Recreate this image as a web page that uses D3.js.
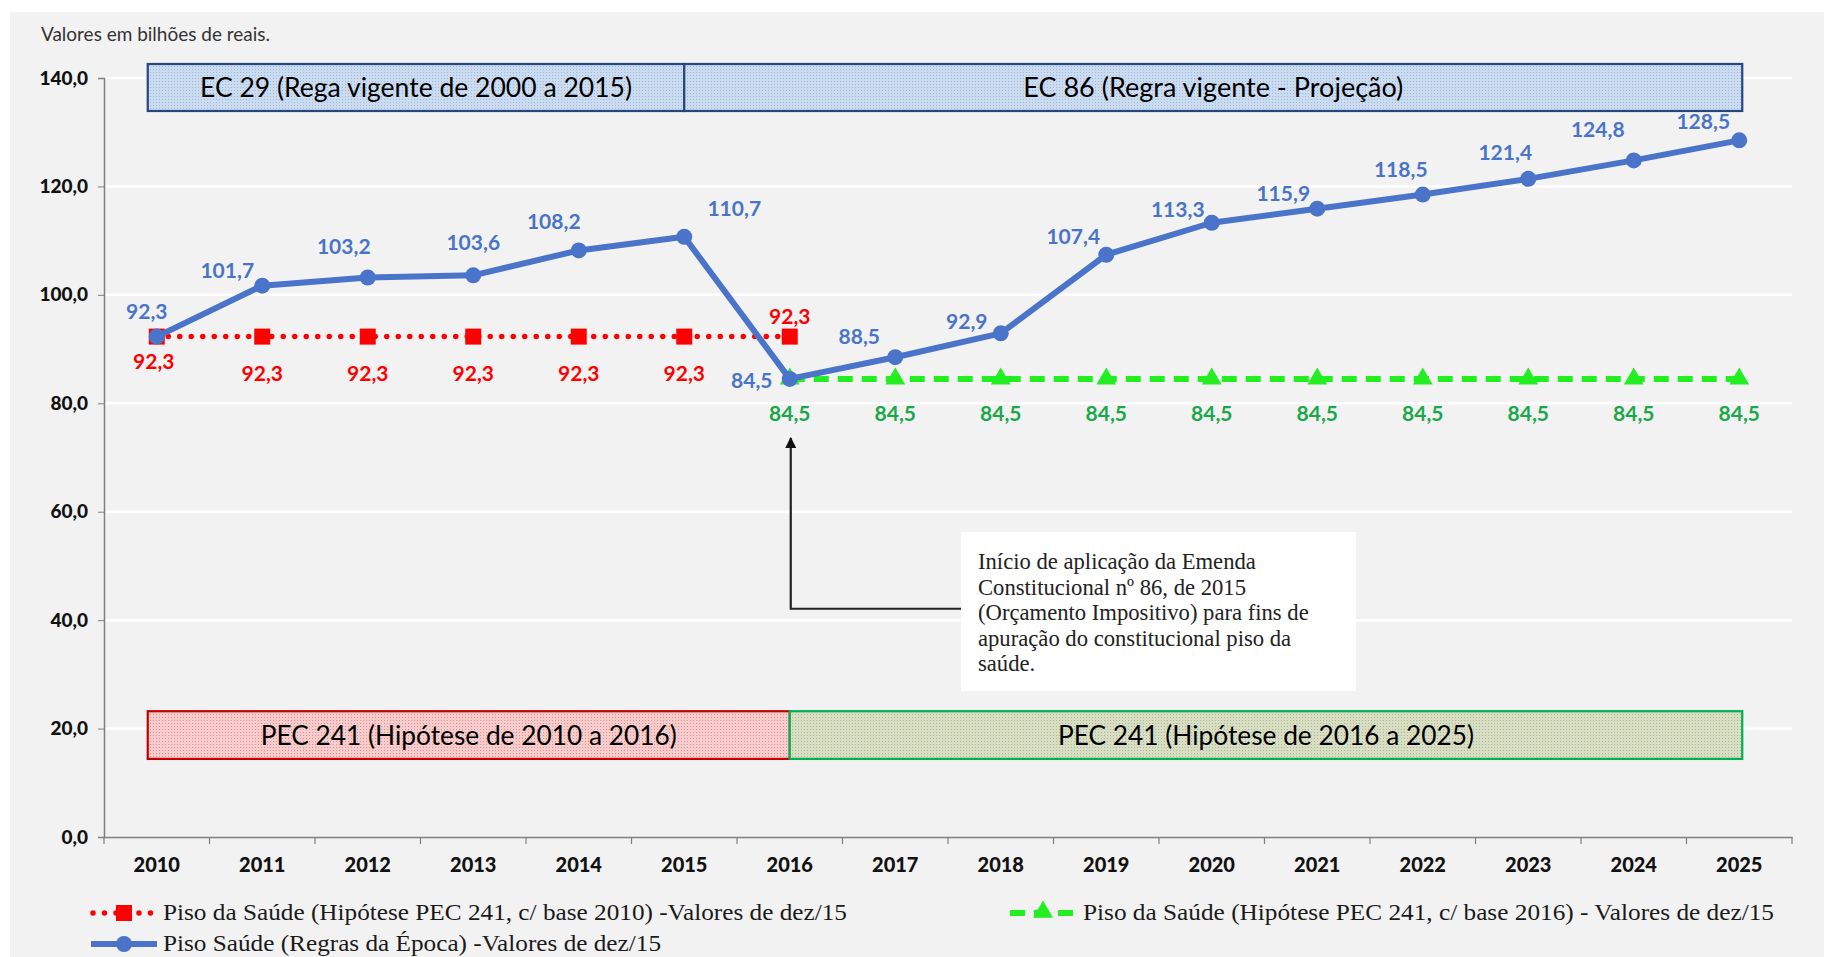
<!DOCTYPE html>
<html><head><meta charset="utf-8">
<script src="https://cdn.jsdelivr.net/npm/d3@7"></script>
<style>html,body{margin:0;padding:0;background:#fff;}svg{display:block;}</style>
</head><body>
<svg id="chart" width="1828" height="957"></svg>
<script>
const years = [2010,2011,2012,2013,2014,2015,2016,2017,2018,2019,2020,2021,2022,2023,2024,2025];
const blueValues = [92.3,101.7,103.2,103.6,108.2,110.7,84.5,88.5,92.9,107.4,113.3,115.9,118.5,121.4,124.8,128.5];
const redYears = [2010,2011,2012,2013,2014,2015,2016];
const redValues = [92.3,92.3,92.3,92.3,92.3,92.3,92.3];
const greenYears = [2016,2017,2018,2019,2020,2021,2022,2023,2024,2025];
const greenValues = [84.5,84.5,84.5,84.5,84.5,84.5,84.5,84.5,84.5,84.5];
const yTicks = [0,20,40,60,80,100,120,140];
const fmt = v => v.toFixed(1).replace(".", ",");

const labelTexts = {
  title: "Valores em bilhões de reais.",
  ec29: "EC 29 (Rega vigente de 2000 a 2015)",
  ec86: "EC 86 (Regra vigente - Projeção)",
  pecA: "PEC 241 (Hipótese de 2010 a 2016)",
  pecB: "PEC 241 (Hipótese de 2016 a 2025)",
  legRed: "Piso da Saúde (Hipótese PEC 241, c/ base 2010) -Valores de dez/15",
  legGreen: "Piso da Saúde (Hipótese PEC 241, c/ base 2016) - Valores de dez/15",
  legBlue: "Piso Saúde (Regras da Época) -Valores de dez/15"
};
const noteLines = ["Início de aplicação da Emenda","Constitucional nº 86, de 2015","(Orçamento Impositivo) para fins de","apuração do constitucional piso da","saúde."];

// layout offsets for blue labels (pixels, dx, dy relative to point)
const blueLabelOffsets = [[-10,-18],[-35,-8],[-24,-24],[0,-25],[-25,-21],[50,-21],[-38,9],[-36,-13],[-34,-4],[-33,-11],[-34,-6],[-34,-8],[-22,-18],[-23,-19],[-36,-23],[-36,-11]];

const svg = d3.select("#chart");
const W = 1828, H = 957;
const mLeft = 104, mRight = 1792, mTop = 78, mBottom = 837;
const blue = "#4a74c9", red = "#ff0000", green = "#22ee22", greenText = "#1aa84a";
const sans = "Lato, 'Open Sans', sans-serif";
const serif = "'Liberation Serif', 'DejaVu Serif', serif";

svg.append("rect").attr("x",0).attr("y",0).attr("width",W).attr("height",H).attr("fill","#fff");
svg.append("rect").attr("x",10).attr("y",12).attr("width",W-14).attr("height",H-12).attr("fill","#f2f2f2");

const defs = svg.append("defs");
function pat(id, base, dot) {
  const p = defs.append("pattern").attr("id",id).attr("width",3).attr("height",3).attr("patternUnits","userSpaceOnUse");
  p.append("rect").attr("width",3).attr("height",3).attr("fill",base);
  p.append("rect").attr("width",1).attr("height",1).attr("fill",dot);
}
pat("pBlue","#ccdcf0","#9fb8de");
pat("pRed","#f6cccc","#e48f8f");
pat("pGreen","#d8dec4","#aeb690");

const x = d3.scaleBand().domain(years).range([mLeft,mRight]).padding(0);
const cx = d => x(d) + x.bandwidth()/2;
const y = d3.scaleLinear().domain([0,140]).range([mBottom,mTop]);

function squeeze(sel, target) {
  sel.attr("textLength", target).attr("lengthAdjust","spacingAndGlyphs");
  return sel;
}
function fitText(sel, target) {
  const n = sel.node();
  const w = n.getComputedTextLength();
  const fs = parseFloat(sel.attr("font-size"));
  if (w > 0) sel.attr("font-size", fs * target / w);
  return sel;
}

// gridlines
svg.append("g").selectAll("line").data(yTicks.filter(d=>d>0)).join("line")
  .attr("x1",mLeft).attr("x2",mRight).attr("y1",d=>y(d)).attr("y2",d=>y(d))
  .attr("stroke","#ffffff").attr("stroke-width",2.5);

// axes
const yAxis = svg.append("g").attr("transform",`translate(${mLeft},0)`)
  .call(d3.axisLeft(y).tickValues(yTicks).tickFormat(fmt).tickSize(6).tickPadding(10));
yAxis.select(".domain").attr("stroke","#7f7f7f").attr("stroke-width",1.5);
yAxis.selectAll(".tick line").attr("stroke","#7f7f7f");
yAxis.selectAll("text").attr("font-family",sans).attr("font-weight","900").attr("font-size",19).attr("fill","#111");

const xAxis = svg.append("g").attr("transform",`translate(0,${mBottom})`)
  .call(d3.axisBottom(x).tickSize(0).tickPadding(21));
xAxis.select(".domain").attr("stroke","#7f7f7f").attr("stroke-width",1.5);
xAxis.selectAll("text").attr("font-family",sans).attr("font-weight","900").attr("font-size",20).attr("fill","#111");
svg.append("g").selectAll("line").data(years.concat([null])).join("line")
  .attr("x1",(d,i)=>mLeft + i*x.bandwidth()).attr("x2",(d,i)=>mLeft + i*x.bandwidth())
  .attr("y1",mBottom).attr("y2",mBottom+7).attr("stroke","#7f7f7f").attr("stroke-width",1.2);

// title
fitText(svg.append("text").attr("x",41).attr("y",41).attr("font-family",sans).attr("font-size",16)
  .attr("fill","#333").text(labelTexts.title), 229);

// boxes
function box(x0,x1,y0,y1,fill,stroke,label,labelW) {
  svg.append("rect").attr("x",x0).attr("y",y0).attr("width",x1-x0).attr("height",y1-y0)
    .attr("fill",fill).attr("stroke",stroke).attr("stroke-width",2.2);
  squeeze(svg.append("text").attr("x",(x0+x1)/2).attr("y",(y0+y1)/2).attr("dy","0.36em")
    .attr("text-anchor","middle").attr("font-family",sans).attr("font-size",27).attr("fill","#000").text(label), labelW);
}
box(cx(2010)-9, cx(2015), y(140)-14, y(140)+33, "url(#pBlue)", "#27467e", labelTexts.ec29, 432);
box(cx(2015), cx(2025)+3, y(140)-14, y(140)+33, "url(#pBlue)", "#27467e", labelTexts.ec86, 380);
box(cx(2010)-9, cx(2016), y(23.2), y(14.4), "url(#pRed)", "#c00000", labelTexts.pecA, 416);
box(cx(2016), cx(2025)+3, y(23.2), y(14.4), "url(#pGreen)", "#00b050", labelTexts.pecB, 416);

// annotation box
const noteX = 961, noteY = 532;
svg.append("rect").attr("x",noteX).attr("y",noteY).attr("width",395).attr("height",159).attr("fill","#ffffff");
const noteG = svg.append("g");
noteLines.forEach((t,i)=>{
  noteG.append("text").attr("x",noteX+17).attr("y",noteY+37+i*25.5)
    .attr("font-family",serif).attr("font-size",18).attr("fill","#222").text(t);
});
fitText(noteG.select("text"), 278);
const nfs = noteG.select("text").attr("font-size");
noteG.selectAll("text").attr("font-size",nfs);

// arrow
defs.append("marker").attr("id","arrowHead").attr("viewBox","0 0 10 10").attr("refX",9).attr("refY",5)
  .attr("markerWidth",5).attr("markerHeight",5).attr("orient","auto")
  .append("path").attr("d","M0,0 L10,5 L0,10 z").attr("fill","#111");
svg.append("path").attr("d",`M${noteX},${y(42.1)} L${cx(2016)+1},${y(42.1)} L${cx(2016)+1},${y(73.6)}`)
  .attr("fill","none").attr("stroke","#222").attr("stroke-width",2.2).attr("marker-end","url(#arrowHead)");

// lines
const line = d3.line().x(d=>cx(d[0])).y(d=>y(d[1]));
const redData = redYears.map((d,i)=>[d,redValues[i]]);
const greenData = greenYears.map((d,i)=>[d,greenValues[i]]);
const blueData = years.map((d,i)=>[d,blueValues[i]]);

svg.append("path").datum(redData).attr("d",line).attr("fill","none").attr("stroke",red)
  .attr("stroke-width",5.5).attr("stroke-linecap","round").attr("stroke-dasharray","0 11.5");
svg.append("g").selectAll("rect").data(redData).join("rect")
  .attr("x",d=>cx(d[0])-8).attr("y",d=>y(d[1])-8).attr("width",16).attr("height",16).attr("fill",red);

svg.append("path").datum(greenData).attr("d",line).attr("fill","none").attr("stroke",green)
  .attr("stroke-width",6).attr("stroke-dasharray","15 9");
const tri = d3.symbol().type(d3.symbolTriangle).size(170);
svg.append("g").selectAll("path").data(greenData).join("path")
  .attr("d",tri).attr("transform",d=>`translate(${cx(d[0])},${y(d[1])})`).attr("fill",green);

svg.append("path").datum(blueData).attr("d",line).attr("fill","none").attr("stroke",blue)
  .attr("stroke-width",6).attr("stroke-linejoin","round");
svg.append("g").selectAll("circle").data(blueData).join("circle")
  .attr("cx",d=>cx(d[0])).attr("cy",d=>y(d[1])).attr("r",8).attr("fill",blue);

// labels
const lblFont = 21;
svg.append("g").selectAll("text").data(blueData).join("text")
  .attr("x",(d,i)=>cx(d[0])+blueLabelOffsets[i][0]).attr("y",(d,i)=>y(d[1])+blueLabelOffsets[i][1])
  .attr("text-anchor","middle").attr("font-family",sans).attr("font-weight","bold").attr("font-size",lblFont)
  .attr("fill",blue).text(d=>fmt(d[1]));
svg.append("g").selectAll("text").data(redData).join("text")
  .attr("x",(d,i)=>cx(d[0]) + (i===0?-3:0))
  .attr("y",(d,i)=>i===6 ? y(d[1])-13 : y(d[1]) + (i===0?32:44))
  .attr("text-anchor","middle").attr("font-family",sans).attr("font-weight","bold").attr("font-size",lblFont)
  .attr("fill",red).text(d=>fmt(d[1]));
svg.append("g").selectAll("text").data(greenData).join("text")
  .attr("x",d=>cx(d[0])).attr("y",d=>y(d[1])+42)
  .attr("text-anchor","middle").attr("font-family",sans).attr("font-weight","bold").attr("font-size",lblFont)
  .attr("fill",greenText).text(d=>fmt(d[1]));

// legend
const leg = svg.append("g");
function legText(xp, yp, t, w) {
  squeeze(leg.append("text").attr("x",xp).attr("y",yp).attr("font-family",serif).attr("font-size",23)
    .attr("fill","#1a1a1a").text(t), w);
}
leg.append("line").attr("x1",93).attr("x2",154).attr("y1",913).attr("y2",913).attr("stroke",red)
  .attr("stroke-width",5.5).attr("stroke-linecap","round").attr("stroke-dasharray","0 11.5");
leg.append("rect").attr("x",116).attr("y",905).attr("width",16).attr("height",16).attr("fill",red);
legText(163, 920, labelTexts.legRed, 684);
leg.append("line").attr("x1",1010).attr("x2",1076).attr("y1",913).attr("y2",913).attr("stroke",green)
  .attr("stroke-width",6).attr("stroke-dasharray","15 9");
leg.append("path").attr("d",tri).attr("transform","translate(1043,912)").attr("fill",green);
legText(1083, 920, labelTexts.legGreen, 691);
leg.append("line").attr("x1",91).attr("x2",157).attr("y1",944).attr("y2",944).attr("stroke",blue).attr("stroke-width",6);
leg.append("circle").attr("cx",124).attr("cy",944).attr("r",8).attr("fill",blue);
legText(163, 951, labelTexts.legBlue, 498);
</script>
</body></html>
